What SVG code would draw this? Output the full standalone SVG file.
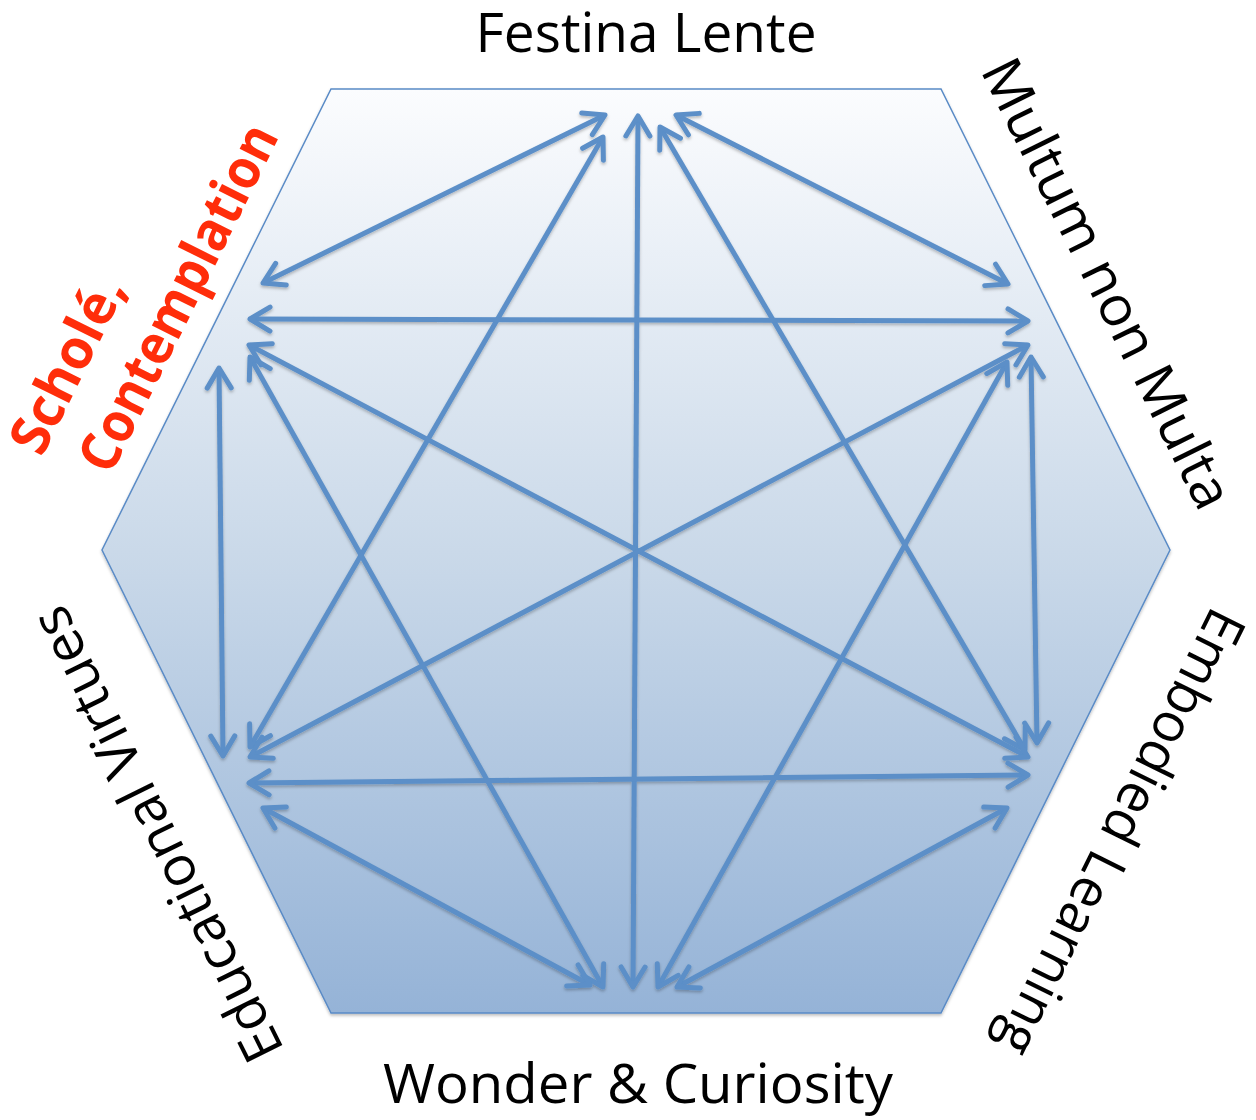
<svg xmlns="http://www.w3.org/2000/svg" width="1256" height="1120" viewBox="0 0 1256 1120">
  <defs>
    <linearGradient id="hexFill" x1="0" y1="0" x2="0" y2="1">
      <stop offset="0" stop-color="#fbfcfe"/>
      <stop offset="0.5" stop-color="#cad9e9"/>
      <stop offset="1" stop-color="#95b3d7"/>
    </linearGradient>
    <filter id="shadow" x="-5%" y="-5%" width="110%" height="110%">
      <feDropShadow dx="0" dy="2" stdDeviation="1.5" flood-color="#000" flood-opacity="0.25"/>
    </filter>
    <marker id="head" markerUnits="userSpaceOnUse" viewBox="-26 -16 30 32" refX="0" refY="0" markerWidth="30" markerHeight="32" orient="auto-start-reverse">
      <path d="M-20,-12 L0,0 L-20,12" fill="none" stroke="#5b8fc8" stroke-width="5" stroke-linecap="round" stroke-linejoin="round"/>
    </marker>
    <style>
      .lbl { font-family: "Open Sans", "Liberation Sans", sans-serif; font-size: 55px; fill: #000; text-anchor: middle; }
      .red { font-weight: bold; fill: #ff2d0a; }
      .conn line { stroke: #5b8fc8; stroke-width: 5; marker-start: url(#head); marker-end: url(#head); }
    </style>
  </defs>

  <g id="hexagon" filter="url(#shadow)">
    <polygon points="331,89 941,89 1170,550 941,1013 331,1013 102,550" fill="url(#hexFill)" stroke="#5a8bc6" stroke-width="1.5"/>
  </g>

  <g id="connectors" class="conn" filter="url(#shadow)">
    <line x1="605" y1="115" x2="263" y2="283"/>
    <line x1="603" y1="137" x2="250" y2="747"/>
    <line x1="638" y1="116" x2="633" y2="987"/>
    <line x1="660" y1="127" x2="1025" y2="750"/>
    <line x1="676" y1="115" x2="1008" y2="284"/>
    <line x1="250" y1="319" x2="1028" y2="321"/>
    <line x1="249" y1="345" x2="1028" y2="757"/>
    <line x1="250" y1="357" x2="603" y2="987"/>
    <line x1="219" y1="368" x2="223" y2="756"/>
    <line x1="1028" y1="345" x2="250" y2="757"/>
    <line x1="1007" y1="362" x2="658" y2="987"/>
    <line x1="1031" y1="357" x2="1037" y2="743"/>
    <line x1="249" y1="783" x2="1028" y2="775"/>
    <line x1="263" y1="808" x2="590" y2="985"/>
    <line x1="1007" y1="808" x2="677" y2="987"/>
  </g>

  <g id="node-festina">
    <text class="lbl" x="646" y="52" textLength="341" lengthAdjust="spacingAndGlyphs">Festina Lente</text>
  </g>
  <g id="node-multum">
    <text class="lbl" transform="translate(1090,292) rotate(63.6)" x="0" y="0" textLength="495" lengthAdjust="spacingAndGlyphs">Multum non Multa</text>
  </g>
  <g id="node-embodied">
    <text class="lbl" transform="translate(1104,824) rotate(116.3)" x="0" y="0" textLength="490" lengthAdjust="spacingAndGlyphs">Embodied Learning</text>
  </g>
  <g id="node-wonder">
    <text class="lbl" x="638" y="1103" textLength="510" lengthAdjust="spacingAndGlyphs">Wonder &amp; Curiosity</text>
  </g>
  <g id="node-virtues">
    <text class="lbl" transform="translate(174,826) rotate(-116.3)" x="0" y="0" textLength="500" lengthAdjust="spacingAndGlyphs">Educational Virtues</text>
  </g>
  <g id="node-schole">
    <text class="lbl red" transform="translate(84,373) rotate(-63.6)" x="0" y="0" textLength="190" lengthAdjust="spacingAndGlyphs">Scholé,</text>
    <text class="lbl red" transform="translate(195,306) rotate(-63.6)" x="0" y="0" textLength="380" lengthAdjust="spacingAndGlyphs">Contemplation</text>
  </g>
</svg>
